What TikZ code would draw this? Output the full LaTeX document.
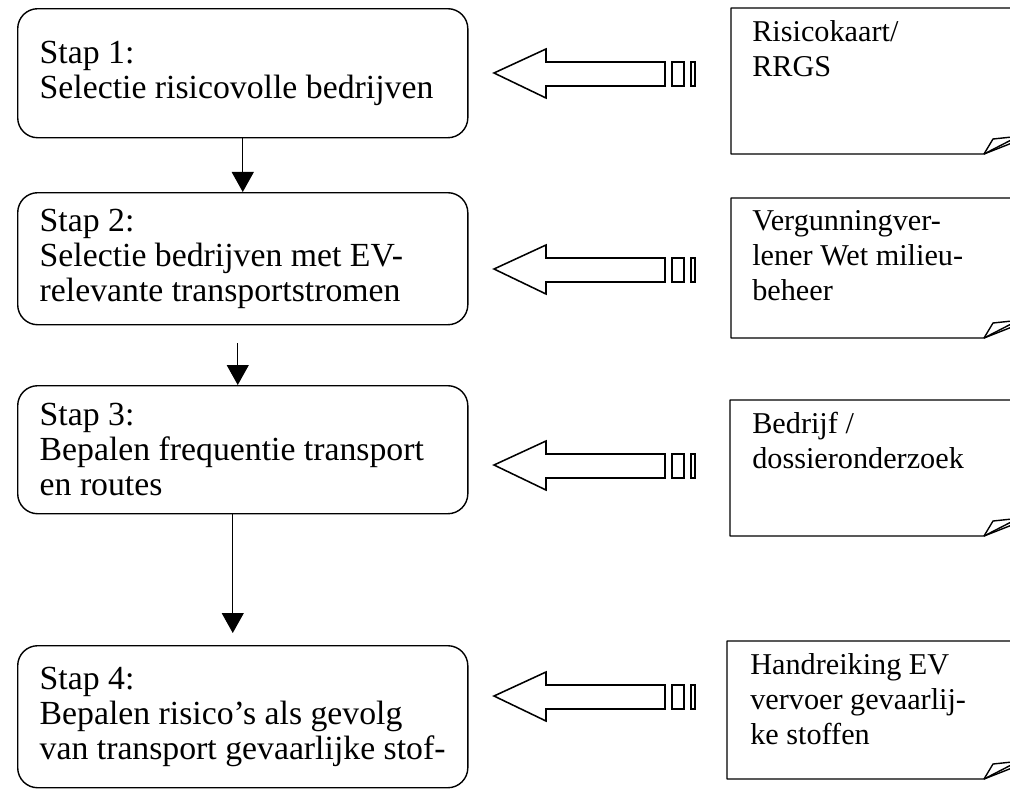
\documentclass[tikz,border=0pt]{standalone}
\usepackage{fontspec}
\setmainfont{Liberation Serif}
\usetikzlibrary{arrows.meta}

\begin{document}
\begin{tikzpicture}[x=0.025cm, y=-0.025cm,
  stap/.style={draw, line width=1pt, rounded corners=0.5cm, anchor=north west, align=flush left,
    text width=10.15cm, inner xsep=0.55cm, font=\fontsize{24}{25}\selectfont},
  bron/.style={anchor=north west, align=left, inner xsep=0.55cm, inner ysep=0.3cm,
    font=\fontsize{21.5}{25}\selectfont},
  rand/.style={line width=1pt, line join=round},
  pijl/.style={line width=1.1pt},
  stapverloop/.style={line width=0.8pt, -{Triangle[length=0.5cm, width=0.55cm]}}
]
\useasboundingbox (0,0) rectangle (1010,789);
\clip (0,0) rectangle (1010,789);

% stappen
\node[stap, minimum height=3.225cm] (stap1) at (17,8) {Stap 1:\\Selectie risicovolle bedrijven};
\node[stap, minimum height=3.3cm] (stap2) at (17,192) {Stap 2:\\Selectie bedrijven met EV-\\relevante transportstromen};
\node[stap, minimum height=3.2cm] (stap3) at (17,385) {Stap 3:\\Bepalen frequentie transport\\en routes};
\node[stap, minimum height=3.55cm] (stap4) at (17,645) {Stap 4:\\Bepalen risico's als gevolg\\van transport gevaarlijke stof-};

\draw[stapverloop] (stap1.south) -- (stap2.north);
\draw[stapverloop] ([xshift=-0.125cm, yshift=-0.45cm]stap2.south) -- ([xshift=-0.125cm]stap3.north);
\draw[stapverloop] ([xshift=-0.25cm]stap3.south) -- ([xshift=-0.25cm, yshift=0.3cm]stap4.north);

% bronnen
\node[bron] (bron1) at (730,8) {Risicokaart/\\RRGS};
\node[bron] (bron2) at (730,198) {Vergunningver-\\lener Wet milieu-\\beheer};
\node[bron] (bron3) at (730,400) {Bedrijf /\\dossieronderzoek};
\node[bron] (bron4) at (728,641) {Handreiking EV\\vervoer gevaarlij-\\ke stoffen};

\foreach \t/\b/\l in {8/154/731, 198/338/731, 400/536/730, 641/779/727}{
  \draw[rand] (\l,\t) -- (1015,\t) -- (1015,\b-16) -- (984,\b) -- (\l,\b) -- cycle;
  \draw[rand] (984,\b) -- (993,\b-15) -- (1012,\b-17);
  \draw[rand] (984,\b) -- (1012,\b-11);
}

% blokpijlen
\foreach \y in {73,269,465,696}{
  \draw[pijl] (494,\y) -- (546,\y-24) -- (546,\y-11) -- (665,\y-11) -- (665,\y+13)
    -- (546,\y+13) -- (546,\y+25) -- cycle;
  \draw[pijl] (672,\y-11) rectangle (684,\y+13);
  \draw[pijl] (691,\y-11) rectangle (695,\y+13);
}
\end{tikzpicture}
\end{document}
